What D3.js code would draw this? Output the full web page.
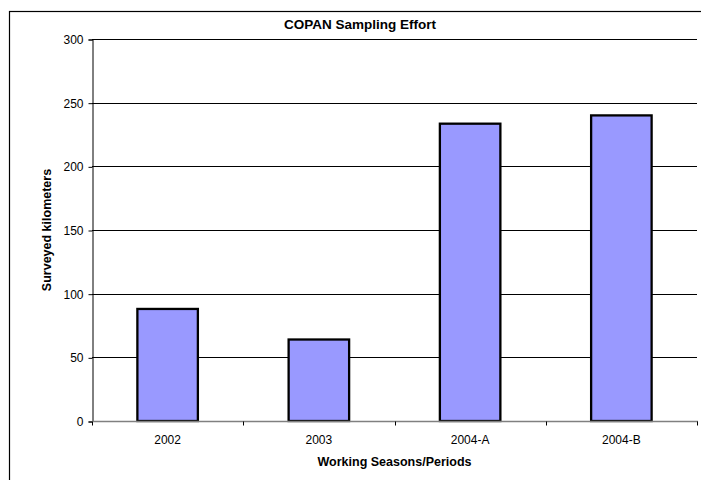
<!DOCTYPE html>
<html><head><meta charset="utf-8">
<script src="https://cdn.jsdelivr.net/npm/d3@7"></script>
<style>body{margin:0;background:#fff}svg{display:block;font-family:"Liberation Sans",Arial,sans-serif}</style>
</head><body>
<svg id="c" width="701" height="480"></svg>
<script>
const categories = ["2002","2003","2004-A","2004-B"];
const values = [88,64,233.5,240];
const yTicks = [0,50,100,150,200,250,300];
const title = "COPAN Sampling Effort";
const xTitle = "Working Seasons/Periods";
const yTitle = "Surveyed kilometers";

const svg = d3.select("#c");
const m = {l:92, r:697, t:39, b:421};

svg.append("rect").attr("x",9.5).attr("y",11.5).attr("width",720).attr("height",500)
  .attr("fill","#fff").attr("stroke","#000").attr("stroke-width",1.2);

const x = d3.scaleBand().domain(categories).range([m.l,m.r]).paddingInner(0.6).paddingOuter(0.3);
const xTicksScale = d3.scaleLinear().domain([0,categories.length]).range([m.l,m.r]);
const y = d3.scaleLinear().domain([0,300]).range([m.b,m.t]);

// gridlines
svg.append("g").selectAll("line").data(yTicks.filter(d=>d>0)).join("line")
  .attr("x1",m.l).attr("x2",m.r)
  .attr("y1",d=>Math.round(y(d))+0.5).attr("y2",d=>Math.round(y(d))+0.5)
  .attr("stroke","#000").attr("stroke-width",1);

// y axis
const ya = svg.append("g").attr("transform",`translate(${m.l+0.5},0.5)`)
  .call(d3.axisLeft(y).tickValues(yTicks).tickSize(4).tickPadding(5));
ya.select(".domain").attr("stroke","#000");
ya.selectAll("text").attr("font-size",12).attr("fill","#000").attr("font-family","Liberation Sans, Arial, sans-serif");

// bars
svg.append("g").selectAll("rect").data(values).join("rect")
  .attr("x",(d,i)=>x(categories[i]))
  .attr("width",x.bandwidth())
  .attr("y",d=>y(d))
  .attr("height",d=>y(0)-y(d))
  .attr("fill","#9999FF").attr("stroke","#000").attr("stroke-width",2.3);

// x axis
const xa = svg.append("g").attr("transform",`translate(0,${m.b+0.5})`);
xa.append("line").attr("x1",m.l).attr("x2",m.r+1).attr("stroke","#808080").attr("stroke-width",1.5);
xa.selectAll("line.t").data(d3.range(categories.length+1)).join("line").attr("class","t")
  .attr("x1",d=>Math.round(xTicksScale(d))+0.5).attr("x2",d=>Math.round(xTicksScale(d))+0.5)
  .attr("y1",0).attr("y2",4).attr("stroke","#000");
xa.selectAll("text").data(categories).join("text")
  .attr("x",d=>x(d)+x.bandwidth()/2).attr("y",22)
  .attr("text-anchor","middle").attr("font-size",12).text(d=>d);

// titles
svg.append("text").attr("x",360).attr("y",29).attr("text-anchor","middle")
  .attr("font-size",13.5).attr("font-weight","bold").text(title);
svg.append("text").attr("x",(m.l+m.r)/2).attr("y",466).attr("text-anchor","middle")
  .attr("font-size",12.5).attr("font-weight","bold").text(xTitle);
svg.append("text").attr("transform",`translate(51,${(m.t+m.b)/2}) rotate(-90)`)
  .attr("text-anchor","middle").attr("font-size",12.5).attr("font-weight","bold").text(yTitle);
</script>
</body></html>
